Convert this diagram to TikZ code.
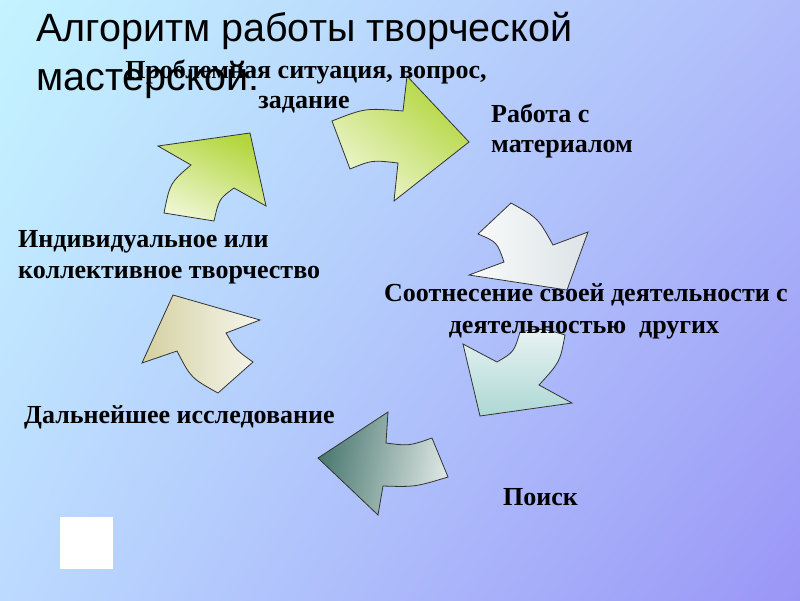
\documentclass[tikz,border=0pt]{standalone}
\usepackage{fontspec}
\usetikzlibrary{shadings}
\setmainfont{Liberation Serif}
\newfontfamily\titlefont{Liberation Sans}
\newfontfamily\labfont{Liberation Serif}
\definecolor{bgTL}{HTML}{C4F4FF}
\definecolor{bgTR}{HTML}{B0BCFA}
\definecolor{bgBL}{HTML}{BCDAFF}
\definecolor{bgBR}{HTML}{9A96F6}
\definecolor{grnD}{HTML}{B2D63C}
\definecolor{grnL}{HTML}{EEF6D2}
\definecolor{whtL}{HTML}{FAFBFB}
\definecolor{whtD}{HTML}{DCE3E6}
\definecolor{tqL}{HTML}{E8F3F3}
\definecolor{tqD}{HTML}{ADD8D4}
\definecolor{dtD}{HTML}{4A7870}
\definecolor{dtL}{HTML}{DCE6E2}
\definecolor{bgeD}{HTML}{D4D0A2}
\definecolor{bgeL}{HTML}{F6F6EC}
\tikzset{
  arr/.style={draw=black!80, line width=0.8pt, line join=miter},
  lab/.style={inner sep=0pt, font=\labfont\bfseries\fontsize{26}{31}\selectfont, text=black},
  ttl/.style={inner sep=0pt, font=\titlefont\fontsize{39.5}{46}\selectfont, text=black}
}
\begin{document}
\begin{tikzpicture}[x=1pt,y=-1pt]
\useasboundingbox (0,0) rectangle (800,600);
\shade[upper left=bgTL, upper right=bgTR, lower left=bgBL, lower right=bgBR] (0,0) rectangle (800,600);

% arrow 1: green, up-right
\path[arr, top color=grnD, bottom color=grnL, shading angle=-25]
  (164,213) .. controls (170,183) .. (191,165) -- (158,146) -- (250,133) -- (266,206)
  -- (234,188) .. controls (219,199) .. (214,221) -- cycle;
% arrow 2: green, right
\path[arr, top color=grnD, bottom color=grnL, shading angle=-40]
  (332,121) .. controls (365,108) .. (403,111) -- (407,76) -- (469,142) -- (394,201)
  -- (398,163) .. controls (372,160) .. (350,169) -- cycle;
% arrow 3: white, down-right
\path[arr, left color=whtL, right color=whtD]
  (511,203) -- (478,234) .. controls (497,242) .. (504,262) -- (469,275) -- (567,290)
  -- (588,232) -- (553,245) .. controls (538,218) .. cycle;
% arrow 4: light teal, down-left
\path[arr, top color=tqL, bottom color=tqD]
  (520,332) .. controls (542,328) .. (565,335) .. controls (560,362) .. (539,385)
  -- (572,403) -- (480,416) -- (463,344) -- (497,362) .. controls (514,352) .. cycle;
% arrow 5: dark teal, left
\path[arr, left color=dtD, right color=dtL, shading angle=80]
  (388,412) -- (318,458) -- (378,515) -- (383,486) .. controls (415,487) .. (448,477)
  -- (432,438) .. controls (409,446) .. (386,443) -- cycle;
% arrow 6: beige, up-left
\path[arr, left color=bgeD, right color=bgeL]
  (173,295) -- (260,320) -- (226,333) .. controls (236,350) .. (253,362) -- (218,393)
  .. controls (191,378) .. (177,351) -- (142,363) -- cycle;

% white square
\fill[white] (60,517) rectangle (113,569);

% title
\node[ttl, anchor=base west] (title1) at (36,41) {Алгоритм работы творческой};
\node[ttl, anchor=base west] (title2) at (36,90) {мастерской:};

% labels
\node[lab, anchor=base] (p1) at (306,78) {Проблемная ситуация, вопрос,};
\node[lab, anchor=base] (p2) at (304,108) {задание};
\node[lab, anchor=base west] (r1) at (491,122) {Работа с};
\node[lab, anchor=base west] (r2) at (491,152) {материалом};
\node[lab, anchor=base west] (i1) at (18,247) {Индивидуальное или};
\node[lab, anchor=base west] (i2) at (18,278) {коллективное творчество};
\node[lab, anchor=base] (s1) at (586,301) {Соотнесение своей деятельности с};
\node[lab, anchor=base] (s2) at (584,333) {деятельностью\ \ других};
\node[lab, anchor=base west] (d1) at (24,423) {Дальнейшее исследование};
\node[lab, anchor=base west] (k1) at (503,505) {Поиск};
\end{tikzpicture}
\end{document}
